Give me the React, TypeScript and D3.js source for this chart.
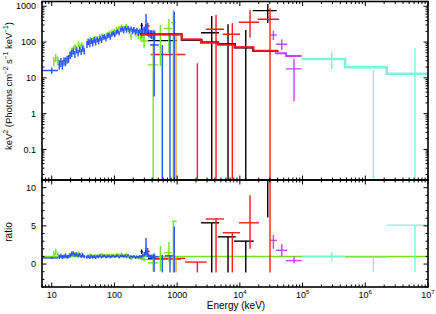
import React from 'react';
import * as d3 from 'd3';

type P = [number, number, number, number, number, number]; // e, eLo, eHi, value, errLo, errHi

// ---------- axis ticks ----------
const energyTicks = [10, 100, 1000, 1e4, 1e5, 1e6, 1e7];
const energyTickLabels: [string, string][] = [['10', ''], ['100', ''], ['1000', ''], ['10', '4'], ['10', '5'], ['10', '6'], ['10', '7']];
const specTicks = [0.1, 1, 10, 100, 1000];
const specTickLabels = ['0.1', '1', '10', '100', '1000'];
const ratioTicks = [0, 5, 10];
const ratioTickLabels = ['0', '5', '10'];

// ---------- dense low-energy data (blue) ----------
const blueE1 = [13.2, 14.0, 14.8, 15.7, 16.6, 17.6, 18.6, 19.7, 20.9, 22.1, 23.4, 24.8, 26.3, 27.8, 29.5, 31.2, 33.0];
const blueV1 = [24, 28, 24, 30, 29, 33, 35, 44, 49, 56, 46, 60, 50, 63, 54, 66, 56];
const blueErr1 = [0.3, 0.28, 0.3, 0.26, 0.27, 0.25, 0.24, 0.24, 0.22, 0.2, 0.22, 0.2, 0.21, 0.19, 0.2, 0.19, 0.2];
const blueRat1 = [0.95, 1.05, 0.9, 1.0, 1.1, 0.95, 1.0, 1.15, 1.35, 1.4, 1.2, 1.3, 1.1, 1.25, 1.0, 1.15, 0.95];

const blueE2 = [36.5, 38.5, 40.6, 42.8, 45.1, 47.6, 50.2, 53, 56, 59, 62.3, 65.8, 69.4, 73.2, 77.3, 81.6, 86, 91, 96, 101, 107, 113, 119, 126, 133, 140, 148, 156, 165, 174, 184, 194, 205, 216, 228, 241, 254, 268, 283, 299, 316, 333, 352, 372, 393, 415, 438];
const blueV2 = [88, 104, 92, 110, 95, 116, 100, 121, 106, 128,
  114, 136, 142, 124, 150, 158, 140, 165, 178, 160,
  188, 200, 180, 220, 232, 205, 246, 216, 250, 206,
  234, 200, 226, 194, 214, 186, 204, 188, 216, 222,
  245, 190, 180, 172, 168, 165, 160];
const blueErr2 = [0.22, 0.2, 0.22, 0.19, 0.21, 0.19, 0.2, 0.18, 0.19, 0.17,
  0.18, 0.17, 0.16, 0.17, 0.16, 0.16, 0.17, 0.15, 0.14, 0.15,
  0.15, 0.14, 0.15, 0.14, 0.15, 0.16, 0.15, 0.16, 0.15, 0.17,
  0.16, 0.17, 0.17, 0.18, 0.17, 0.19, 0.18, 0.2, 0.19, 0.22,
  0.3, 0.22, 0.24, 0.26, 0.28, 0.3, 0.32];
const blueRat2 = [0.9, 1.0, 0.85, 1.05, 0.9, 1.0, 0.85, 1.0, 0.95, 1.1,
  0.9, 1.05, 1.1, 0.9, 1.0, 1.05, 0.9, 1.0, 1.1, 0.95,
  1.05, 1.1, 0.9, 1.05, 1.1, 0.95, 1.1, 0.9, 1.15, 0.85,
  1.0, 0.9, 1.0, 0.85, 0.95, 0.9, 1.0, 0.95, 1.1, 1.3,
  1.6, 1.2, 1.1, 1.0, 0.95, 1.0, 0.9];

// ---------- dense low-energy data (green) ----------
const greenE1 = [10.8, 11.6, 12.5];
const greenV1 = [30, 37, 31];
const greenErr1 = [0.28, 0.26, 0.28];
const greenRat1 = [1.3, 1.6, 1.2];

const greenE2 = [19.5, 20.8, 22.2, 23.6, 25.1, 26.7, 28.4, 30.2, 32.1];
const greenV2 = [44, 58, 66, 74, 66, 90, 75, 84, 72];
const greenErr2 = [0.22, 0.21, 0.2, 0.19, 0.2, 0.18, 0.19, 0.18, 0.19];
const greenRat2 = [1.2, 1.35, 1.25, 1.3, 1.15, 1.4, 1.2, 1.3, 1.1];

const greenE3 = [37.5, 41, 45, 49, 53.5, 58.5, 64, 70, 76.5, 83.5, 91, 99.5, 108.5, 118.5, 129.5, 141.5, 154.5, 169, 184.5, 201.5, 220, 240, 262, 286];
const greenV3 = [105, 120, 110, 130, 120, 142, 152, 140, 168, 176, 192, 208, 232, 248, 270, 248, 278, 232, 145, 218, 172, 160, 150, 135];
const greenErr3 = [0.18, 0.17, 0.18, 0.16, 0.17, 0.16, 0.16, 0.17, 0.15, 0.15, 0.15, 0.14, 0.15, 0.14, 0.15, 0.15, 0.16, 0.17, 0.2, 0.18, 0.2, 0.22, 0.24, 0.26];
const greenRat3 = [1.1, 1.2, 1.05, 1.15, 1.1, 1.2, 1.25, 1.1, 1.2, 1.15, 1.2, 1.1, 1.25, 1.2, 1.3, 1.15, 1.25, 1.05, 0.7, 1.0, 0.85, 0.8, 0.75, 0.7];

// ---------- sparse spectrum points ----------
const blackSpec: P[] = [
  [272, 262, 284, 290, 220, 340],
  [590, 344, 1000, 110, 110, 110],
  [3560, 2404, 4657, 183, 1e-4, 535],
  [6480, 4440, 8590, 88, 1e-4, 314],
  [12420, 8080, 16640, 70, 1e-4, 218],
  [27860, 16040, 38730, 754, 342, 1160],
];
const redSpec: P[] = [
  [272, 272, 272, 150, 128, 178],
  [340, 315, 365, 282, 218, 348],
  [720, 380, 1350, 45, 45, 45],
  [2100, 1335, 2967, 1e-4, 1e-4, 25.5],
  [4170, 2857, 5590, 228, 1e-4, 571],
  [7580, 5330, 10040, 165, 1e-4, 335],
  [14530, 9700, 20230, 357, 133, 788],
  [30280, 19260, 42200, 434, 1e-4, 880],
];
const orangeSpec: P[] = [[960, 960, 960, 150, 1e-4, 180]];
const greenSpec: P[] = [
  [297, 256, 345, 107, 67, 178],
  [415, 340, 500, 23, 1e-4, 92],
  [540, 540, 540, 60, 21, 300],
  [740, 620, 830, 240, 50, 440],
  [870, 800, 950, 350, 1e-4, 790],
];
const blueSpec: P[] = [
  [10.0, 7, 12.6, 16, 13, 19.5],
  [319, 312, 326, 380, 180, 610],
  [430, 370, 510, 83, 3, 141],
  [580, 580, 580, 40, 1e-4, 83],
  [770, 770, 770, 60, 1e-4, 180],
  [900, 880, 920, 150, 1e-4, 700],
];
const purpleSpec: P[] = [
  [34210, 31090, 38760, 158, 115, 204],
  [46570, 37770, 56580, 87, 60, 120],
  [73130, 53960, 97080, 17.8, 2.2, 35],
];
const cyanSpec: P[] = [
  [291800, 97000, 476000, 33.7, 17.7, 52],
  [1.35e6, 476000, 2.2e6, 19.8, 1e-4, 16.7],
  [6.2e6, 2.2e6, 1e7, 13.1, 1e-4, 67],
];

// ---------- sparse ratio points ----------
const blackRatio: P[] = [
  [272, 262, 284, 1.6, 1.3, 1.9],
  [590, 344, 1150, 0.7, 0.7, 0.7],
  [3560, 2404, 4657, 5.4, -1.1, 5.4],
  [6480, 4440, 8590, 3.56, -1.1, 3.56],
  [12420, 8080, 16640, 3.0, -1.1, 3.0],
  [27860, 16040, 38730, 14, 6.1, 20],
];
const redRatio: P[] = [
  [340, 315, 365, 1.65, 1.2, 2.1],
  [720, 400, 1350, 0.75, 0.75, 0.75],
  [2100, 1335, 2967, 0.26, -1.1, 0.26],
  [4170, 2857, 5590, 5.9, -1.1, 5.9],
  [7580, 5330, 10040, 4.1, -1.1, 4.1],
  [14530, 9700, 20230, 5.4, 2.0, 9.0],
  [30280, 19260, 42200, 16, -1.1, 30],
];
const orangeRatio: P[] = [[960, 960, 960, 0.8, -1.1, 0.8]];
const greenRatio: P[] = [
  [297, 256, 345, 0.6, 0.3, 0.9],
  [415, 340, 500, 0.15, -1.0, 0.75],
  [540, 540, 540, 0.5, -0.9, 2.4],
  [740, 620, 830, 1.5, 0.3, 2.9],
  [870, 830, 985, 5.6, -1.1, 5.6],
];
const blueRatio: P[] = [
  [10.0, 7, 12.6, 0.8, 0.65, 0.95],
  [319, 312, 326, 2.3, 1.2, 3.4],
  [430, 370, 510, 0.95, -1.0, 1.4],
  [580, 580, 580, 0.5, -1.1, 1.2],
  [770, 640, 868, 1.08, -1.1, 1.08],
  [900, 900, 900, 4.9, -1.1, 4.9],
];
const purpleRatio: P[] = [
  [34210, 31090, 38760, 3.1, 2.0, 3.8],
  [46570, 37770, 56580, 1.8, 1.0, 2.6],
  [73130, 53960, 97080, 0.45, 0.1, 1.0],
];
const cyanRatio: P[] = [
  [291800, 97000, 476000, 1.0, 0.43, 1.57],
  [1.35e6, 476000, 2.2e6, 0.88, -1.05, 0.88],
  [6.2e6, 2.2e6, 1e7, 5.1, -1.05, 5.1],
];

// ---------- model step curves ----------
const blackModelE = [256, 1183, 2466, 4487, 8380, 16226, 41100];
const blackModelV = [166, 115, 99, 87, 70, 56];
const redModelE = [262, 1183, 2400, 4550, 8200, 16500, 41100];
const redModelV = [163, 120, 96, 84, 72, 57];
const purpleModelE = [36400, 54600, 97000];
const purpleModelV = [49, 41];
const cyanModelE = [97000, 476000, 2.2e6, 1e7];
const cyanModelV = [33.7, 19.8, 13.1];
const ratioLineE = [7, 1e7];
const ratioLineV = [1];

// ---------- colors ----------
const C_BLACK = '#000000';
const C_RED = '#ff1a1a';
const C_GREEN = '#72e41e';
const C_BLUE = '#2a52ff';
const C_PURPLE = '#c243f5';
const C_CYAN = '#7cf3dc';
const C_ORANGE = '#f2a024';

// ---------- layout ----------
const W = 436, H = 314;
const L = 42, R = 428, T = 1.5, M = 180, B = 287;
const FONT = "'Liberation Sans', Arial, Helvetica, sans-serif";

function dense(E: number[], V: number[], err: number[]): P[] {
  return E.map((e, i) => {
    const prev = i > 0 ? E[i - 1] : (e * e) / E[i + 1];
    const next = i < E.length - 1 ? E[i + 1] : (e * e) / E[i - 1];
    const e0 = Math.sqrt(prev * e);
    const e1 = Math.sqrt(e * next);
    return [e, e0, e1, V[i], V[i] * (1 - err[i]), V[i] * (1 + err[i])] as P;
  });
}

export default function App() {
  const x = d3.scaleLog().domain([7, 1e7]).range([L, R]);
  const ys = d3.scaleLog().domain([0.014, 1360]).range([M, T]);
  const yr = d3.scaleLinear().domain([-3, 11]).range([B, M]);
  const ysf = (v: number) => ys(Math.max(v, 1e-6));
  const yrf = (v: number) => yr(v);

  const blueSpecDense = [...dense(blueE1, blueV1, blueErr1), ...dense(blueE2, blueV2, blueErr2)];
  const blueRatDense = [...dense(blueE1, blueRat1, blueErr1), ...dense(blueE2, blueRat2, blueErr2)];
  const greenSpecDense = [...dense(greenE1, greenV1, greenErr1), ...dense(greenE2, greenV2, greenErr2), ...dense(greenE3, greenV3, greenErr3)];
  const greenRatDense = [...dense(greenE1, greenRat1, greenErr1), ...dense(greenE2, greenRat2, greenErr2), ...dense(greenE3, greenRat3, greenErr3)];

  const drawPts = (pts: P[], yf: (v: number) => number, color: string, sw: number, key: string) =>
    pts.map((p, i) => {
      const [e, e0, e1, v, lo, hi] = p;
      return (
        <g key={key + i} stroke={color} strokeWidth={sw}>
          {e1 > e0 && <line x1={x(e0)} x2={x(e1)} y1={yf(v)} y2={yf(v)} />}
          {hi > lo && <line x1={x(e)} x2={x(e)} y1={yf(lo)} y2={yf(hi)} />}
        </g>
      );
    });

  const step = (edges: number[], vals: number[], yf: (v: number) => number) => {
    const pts: [number, number][] = edges.map((e, i) => [e, vals[Math.min(i, vals.length - 1)]]);
    return d3.line<[number, number]>().x((d) => x(d[0])).y((d) => yf(d[1])).curve(d3.curveStepAfter)(pts) || '';
  };

  // ticks
  const xMinor: number[] = [];
  for (let k = 0; k <= 7; k++) for (let m = 1; m <= 9; m++) {
    const v = m * Math.pow(10, k);
    if (v >= 7 && v <= 1e7 && m !== 1) xMinor.push(v);
  }
  const sMinor: number[] = [];
  for (let k = -2; k <= 3; k++) for (let m = 2; m <= 9; m++) {
    const v = m * Math.pow(10, k);
    if (v >= 0.014 && v <= 1360) sMinor.push(v);
  }
  const rMinor: number[] = [];
  for (let v = -3; v <= 11; v++) if (v % 5 !== 0) rMinor.push(v);

  const MAJ = 4.5, MIN = 2.5;
  const tickLines: JSX.Element[] = [];
  const addX = (v: number, len: number, k: string) => {
    const xx = x(v);
    tickLines.push(<line key={'xt' + k} x1={xx} x2={xx} y1={T} y2={T + len} />);
    tickLines.push(<line key={'xm1' + k} x1={xx} x2={xx} y1={M} y2={M - len} />);
    tickLines.push(<line key={'xm2' + k} x1={xx} x2={xx} y1={M} y2={M + len} />);
    tickLines.push(<line key={'xb' + k} x1={xx} x2={xx} y1={B} y2={B - len} />);
  };
  energyTicks.forEach((v, i) => addX(v, MAJ, 'M' + i));
  xMinor.forEach((v, i) => addX(v, MIN, 'm' + i));
  const addY = (yy: number, len: number, k: string) => {
    tickLines.push(<line key={'yl' + k} x1={L} x2={L + len} y1={yy} y2={yy} />);
    tickLines.push(<line key={'yr' + k} x1={R} x2={R - len} y1={yy} y2={yy} />);
  };
  specTicks.forEach((v, i) => addY(ys(v), MAJ, 'sM' + i));
  sMinor.forEach((v, i) => addY(ys(v), MIN, 'sm' + i));
  ratioTicks.forEach((v, i) => addY(yr(v), MAJ, 'rM' + i));
  rMinor.forEach((v, i) => addY(yr(v), MIN, 'rm' + i));

  const DW = 1.4; // data stroke
  const MW = 2; // model stroke

  return (
    <svg width={W} height={H} style={{ position: 'absolute', left: 0, top: 0, background: '#fff' }} fontFamily={FONT}>
      <defs>
        <clipPath id="cTop"><rect x={L} y={T} width={R - L} height={M - T} /></clipPath>
        <clipPath id="cBot"><rect x={L} y={M} width={R - L} height={B - M} /></clipPath>
      </defs>

      {/* spectrum panel */}
      <g clipPath="url(#cTop)" fill="none">
        {drawPts(blackSpec, ysf, C_BLACK, DW, 'bs')}
        {drawPts(redSpec, ysf, C_RED, DW, 'rs')}
        {drawPts(orangeSpec, ysf, C_ORANGE, DW, 'os')}
        {drawPts(greenSpecDense, ysf, C_GREEN, DW, 'gsd')}
        {drawPts(greenSpec, ysf, C_GREEN, DW, 'gs')}
        {drawPts(blueSpecDense, ysf, C_BLUE, DW, 'usd')}
        {drawPts(blueSpec, ysf, C_BLUE, DW, 'us')}
        {drawPts(purpleSpec, ysf, C_PURPLE, DW, 'ps')}
        {drawPts(cyanSpec, ysf, C_CYAN, DW, 'cs')}
        <path d={step(blackModelE, blackModelV, ysf)} stroke={C_BLACK} strokeWidth={MW} strokeOpacity={0.85} />
        <path d={step(redModelE, redModelV, ysf)} stroke={C_RED} strokeWidth={MW} strokeOpacity={0.9} />
        <path d={step(purpleModelE, purpleModelV, ysf)} stroke={C_PURPLE} strokeWidth={MW} />
        <path d={step(cyanModelE, cyanModelV, ysf)} stroke={C_CYAN} strokeWidth={MW + 0.5} />
      </g>

      {/* ratio panel */}
      <g clipPath="url(#cBot)" fill="none">
        <path d={step(ratioLineE, ratioLineV, yrf)} stroke={C_GREEN} strokeWidth={1.4} />
        {drawPts(blackRatio, yrf, C_BLACK, DW, 'br')}
        {drawPts(redRatio, yrf, C_RED, DW, 'rr')}
        {drawPts(orangeRatio, yrf, C_ORANGE, DW, 'or')}
        {drawPts(greenRatDense, yrf, C_GREEN, DW, 'grd')}
        {drawPts(greenRatio, yrf, C_GREEN, DW, 'gr')}
        {drawPts(blueRatDense, yrf, C_BLUE, DW, 'urd')}
        {drawPts(blueRatio, yrf, C_BLUE, DW, 'ur')}
        {drawPts(purpleRatio, yrf, C_PURPLE, DW, 'pr')}
        {drawPts(cyanRatio, yrf, C_CYAN, DW, 'cr')}
      </g>

      {/* frames and ticks */}
      <g stroke="#000" strokeWidth={1}>{tickLines}</g>
      <rect x={L} y={T} width={R - L} height={M - T} fill="none" stroke="#000" strokeWidth={1.6} />
      <rect x={L} y={M} width={R - L} height={B - M} fill="none" stroke="#000" strokeWidth={1.6} />

      {/* tick labels */}
      <g fontSize={9} fill="#000">
        {specTicks.map((v, i) => (
          <text key={'sl' + i} x={36} y={ys(v)} dy="0.35em" textAnchor="end">{specTickLabels[i]}</text>
        ))}
        {ratioTicks.map((v, i) => (
          <text key={'rl' + i} x={36} y={yr(v)} dy="0.35em" textAnchor="end">{ratioTickLabels[i]}</text>
        ))}
        {energyTicks.map((v, i) => (
          <text key={'xl' + i} x={x(v)} y={298} textAnchor="middle">
            {energyTickLabels[i][0]}
            {energyTickLabels[i][1] && <tspan dy={-4} fontSize={6}>{energyTickLabels[i][1]}</tspan>}
          </text>
        ))}
      </g>

      {/* axis titles */}
      <text x={236} y={308.5} textAnchor="middle" fontSize={10}>Energy (keV)</text>
      <text transform="translate(11.5,232) rotate(-90)" textAnchor="middle" fontSize={10}>ratio</text>
      <text transform="translate(11.5,86) rotate(-90)" textAnchor="middle" fontSize={9.5}>
        keV<tspan dy={-3.5} fontSize={6.5}>2</tspan>
        <tspan dy={3.5}> (Photons cm</tspan>
        <tspan dy={-3.5} fontSize={6.5}>−2</tspan>
        <tspan dy={3.5}> s</tspan>
        <tspan dy={-3.5} fontSize={6.5}>−1</tspan>
        <tspan dy={3.5}> keV</tspan>
        <tspan dy={-3.5} fontSize={6.5}>−1</tspan>
        <tspan dy={3.5}>)</tspan>
      </text>
    </svg>
  );
}
